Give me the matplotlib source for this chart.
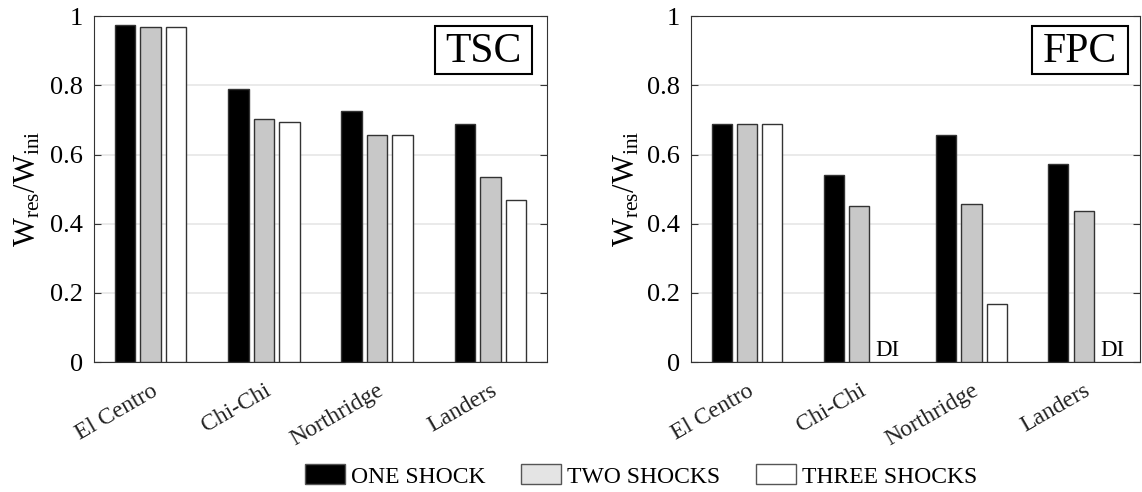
import numpy as np
import matplotlib.pyplot as plt
from matplotlib.patches import Patch, Rectangle

plt.rcParams['font.family'] = ['Liberation Serif', 'DejaVu Serif']
plt.rcParams['mathtext.fontset'] = 'custom'
plt.rcParams['mathtext.rm'] = 'Liberation Serif'
plt.rcParams['mathtext.it'] = 'Liberation Serif'

quakes = ['El Centro', 'Chi-Chi', 'Northridge', 'Landers']
series = ['ONE SHOCK', 'TWO SHOCKS', 'THREE SHOCKS']

# residual / initial capacity, rows = quakes, cols = number of shocks
tsc = [[0.976, 0.969, 0.969],
       [0.789, 0.704, 0.693],
       [0.725, 0.656, 0.656],
       [0.689, 0.536, 0.469]]
fpc = [[0.689, 0.689, 0.689],
       [0.542, 0.450, np.nan],
       [0.656, 0.458, 0.169],
       [0.573, 0.436, np.nan]]
panels = ['TSC', 'FPC']

colors = ['black', '#c8c8c8', 'white']
legend_colors = ['black', '#e4e4e4', 'white']
offsets = [-0.225, 0.0, 0.225]
width = 0.18

fig = plt.figure(figsize=(11.42, 4.92), dpi=100)
axes = [fig.add_axes([0.0823, 0.264, 0.3967, 0.703]),
        fig.add_axes([0.605, 0.264, 0.393, 0.703])]
boxes = [(0.753, 0.967), (0.759, 0.973)]
label_x = [-0.113, -0.111]

x = np.arange(1, len(quakes) + 1)
for ax, data, name, (bx0, bx1), lx in zip(axes, [tsc, fpc], panels, boxes,
                                         label_x):
    data = np.array(data)
    for k in range(3):
        ax.bar(x + offsets[k], data[:, k], width, color=colors[k],
               edgecolor='#333333', linewidth=1.0, zorder=3)
        # missing third-shock results are marked DI
        for i in range(len(quakes)):
            if np.isnan(data[i, k]):
                ax.text(x[i] + offsets[k] - width / 2 + 0.01, 0.004, 'DI',
                        fontsize=16.5, ha='left', va='bottom', zorder=4)
    ax.set_xlim(0.5, 4.5)
    ax.set_ylim(0, 1)
    ax.set_yticks([0, 0.2, 0.4, 0.6, 0.8, 1])
    ax.set_yticklabels(['0', '0.2', '0.4', '0.6', '0.8', '1'])
    ax.yaxis.grid(True, color='#e6e6e6', linewidth=1.2, zorder=0)
    ax.set_axisbelow(True)
    ax.tick_params(axis='y', direction='in', right=True, length=5,
                   labelsize=19, pad=8, color='#333333')
    ax.tick_params(axis='x', length=0, labelsize=17, pad=13)
    ax.set_xticks(x)
    ax.set_xticklabels(quakes, rotation=30, ha='right',
                       rotation_mode='anchor', color='#222222')
    for s in ax.spines.values():
        s.set_color('#333333')
    ax.set_ylabel(r'$\mathrm{W_{res}/W_{ini}}$', fontsize=22)
    ax.yaxis.set_label_coords(lx, 0.5)

    # boxed panel name in the upper right corner
    by0, by1 = 0.832, 0.971
    ax.add_patch(Rectangle((bx0, by0), bx1 - bx0, by1 - by0,
                           transform=ax.transAxes, facecolor='white',
                           edgecolor='black', linewidth=1.5, zorder=5))
    ax.text((bx0 + bx1) / 2, (by0 + by1) / 2 - 0.005, name,
            transform=ax.transAxes, fontsize=30, ha='center',
            va='center', zorder=6)

handles = [Patch(facecolor=c, edgecolor='#555555', linewidth=1.0)
           for c in legend_colors]
fig.legend(handles, series, loc='center', ncol=3, frameon=False,
           bbox_to_anchor=(641 / 1142, 1 - 476 / 492), fontsize=17,
           handlelength=1.7, handleheight=0.93, handletextpad=0.25,
           columnspacing=1.5)

fig.savefig('out.png', dpi=100)
